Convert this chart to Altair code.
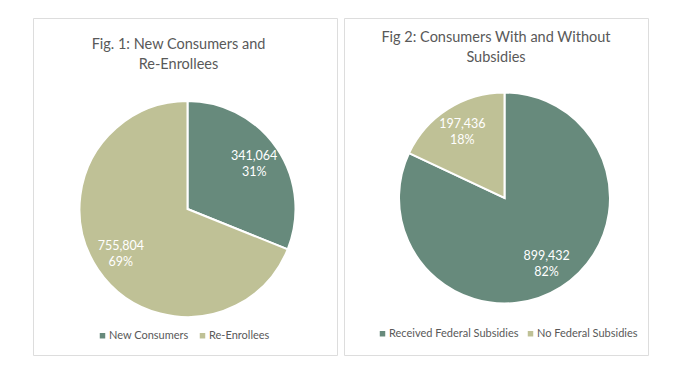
import altair as alt
import pandas as pd

fig1_title = "Fig. 1: New Consumers and\nRe-Enrollees"
fig1_cats = ["New Consumers", "Re-Enrollees"]
fig1_vals = [341064, 755804]
fig1_pcts = ["31%", "69%"]

fig2_title = "Fig 2:  Consumers With and Without\nSubsidies"
fig2_cats = ["Received Federal Subsidies", "No Federal Subsidies"]
fig2_vals = [899432, 197436]
fig2_pcts = ["82%", "18%"]

colors = ["#678a7c", "#bfc196"]
FONT = "Lato"
GRAY = "#595959"


def pie(title, cats, vals, pcts, cx, cy, r, lx, ly, tx, ty, cpad):
    df = pd.DataFrame({"cat": cats, "val": vals, "pct": pcts, "order": list(range(len(cats)))})
    df["label"] = df["val"].map("{:,}".format)
    base = alt.Chart(df).encode(
        theta=alt.Theta("val:Q", stack=True),
        order=alt.Order("order:Q"),
        x=alt.value(cx),
        y=alt.value(cy),
    )
    arc = base.mark_arc(outerRadius=r, stroke="white", strokeWidth=2).encode(
        color=alt.Color(
            "cat:N",
            scale=alt.Scale(domain=cats, range=colors),
            sort=cats,
            legend=alt.Legend(
                title=None,
                orient="none",
                legendX=lx,
                legendY=ly,
                direction="horizontal",
                symbolType="square",
                symbolSize=30,
                symbolStrokeWidth=0,
                labelFont=FONT,
                labelFontSize=11,
                labelColor=GRAY,
                columnPadding=cpad,
                labelOffset=1,
                padding=0,
            ),
        )
    )
    t1 = base.mark_text(radius=r * 0.745, dy=-8, color="white", font=FONT, fontSize=12.5).encode(text="label:N")
    t2 = base.mark_text(radius=r * 0.745, dy=8, color="white", font=FONT, fontSize=12.5).encode(text="pct:N")
    tdf = pd.DataFrame({"t": [title]})
    ttl = alt.Chart(tdf).mark_text(
        font=FONT, fontSize=14.5, color=GRAY, align="center", baseline="alphabetic", lineBreak="\n", lineHeight=20
    ).encode(text="t:N", x=alt.value(tx), y=alt.value(ty))
    return alt.layer(arc, t1, t2, ttl).properties(width=304, height=337)


p1 = pie(fig1_title, fig1_cats, fig1_vals, fig1_pcts, 154.5, 191, 108, 64, 312, 145.5, 31, 8)
p2 = pie(fig2_title, fig2_cats, fig2_vals, fig2_pcts, 160.5, 180, 105.5, 33, 310, 152, 24, 6)

chart = (
    alt.hconcat(p1, p2, spacing=5)
    .resolve_scale(color="independent")
    .properties(padding={"left": 24, "top": 9, "right": 0, "bottom": 0})
    .configure_view(stroke="#d9d9d9", strokeWidth=1)
    .configure(background="white")
)

chart.save("out.html", embed_options={"renderer": "svg", "actions": False})
